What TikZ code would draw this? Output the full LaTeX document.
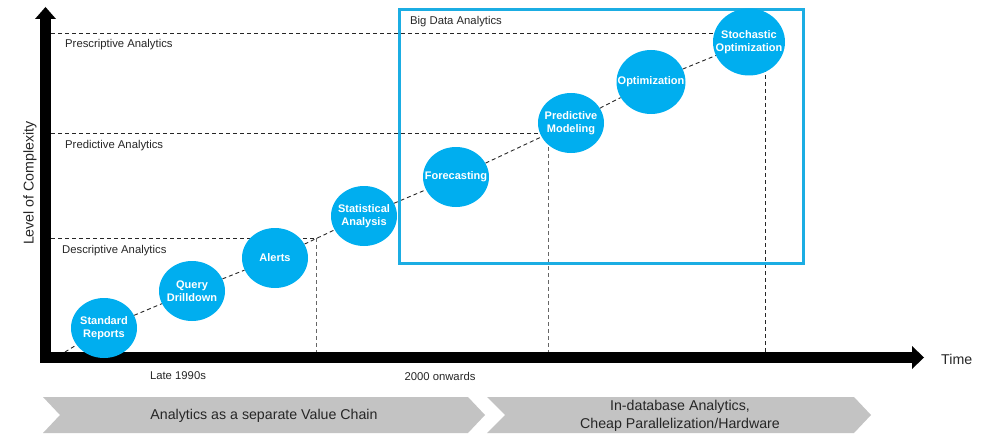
\documentclass[tikz,border=0pt]{standalone}
\usepackage{fontspec}
\setmainfont{Liberation Sans}
\usetikzlibrary{shapes.geometric}
\pgfdeclarelayer{bg}
\pgfsetlayers{bg,main}
\definecolor{bubc}{HTML}{00AEEF}
\definecolor{boxc}{HTML}{1BADE3}
\definecolor{chevc}{HTML}{C3C3C3}
\definecolor{txtc}{HTML}{262626}
\begin{document}
\begin{tikzpicture}[x=1pt,y=-1pt,
  bubble/.style={ellipse, fill=bubc, draw=none, inner sep=0pt, minimum width=66pt, minimum height=60pt},
  bubtext/.style={text=white, font=\bfseries\fontsize{11}{13.5}\selectfont, align=center, inner sep=0pt},
  small/.style={text=txtc, font=\fontsize{11.3}{13}\selectfont, inner sep=0pt},
  big/.style={text=txtc, font=\fontsize{14.2}{17}\selectfont, inner sep=0pt, align=center},
  hdash/.style={dash pattern=on 4pt off 3pt, line width=0.9pt, black!85},
  vdash/.style={dash pattern=on 4pt off 3pt, line width=0.9pt, black!60},
  ddash/.style={dash pattern=on 4pt off 3pt, line width=0.9pt, black!85},
  chev/.style={fill=chevc, draw=none}]
\useasboundingbox (0,0) rectangle (994,436);

% axes
\fill (40,19) rectangle (51,363);
\fill (35,19) -- (45.5,7) -- (56,19) -- cycle;
\fill (40,352) rectangle (912,363);
\fill (912,346) -- (924,357.5) -- (912,369) -- cycle;

% labels
\node[small, anchor=west] (presc) at (65,45) {Prescriptive Analytics};
\node[small, anchor=west] (pred) at (65,146) {Predictive Analytics};
\node[small, anchor=west] (desc) at (62,251) {Descriptive Analytics};
\node[small] (late) at (178,376) {Late 1990s};
\node[small] (onw) at (440,376) {2000 onwards};
\node[big, rotate=90] (loc) at (30,183) {Level of Complexity};
\node[big, anchor=west] (time) at (941,359) {Time};

% Big data box
\draw[boxc, line width=3pt] (399,10) rectangle (803,263);
\node[small, anchor=west] (bda) at (410,22) {Big Data Analytics};

% bubbles
\node[bubble, label={[bubtext]center:Standard\\Reports}] (sr) at (104,328) {};
\node[bubble, label={[bubtext]center:Query\\Drilldown}] (qd) at (192,291) {};
\node[bubble, label={[bubtext]center:Alerts}] (al) at (275,258) {};
\node[bubble, label={[bubtext]center:Statistical\\Analysis}] (sa) at (364,216) {};
\node[bubble, label={[bubtext]center:Forecasting}] (fc) at (456,177) {};
\node[bubble, label={[bubtext]center:Predictive\\Modeling}] (pm) at (571,123) {};
\node[bubble, minimum width=69pt, minimum height=64pt, label={[bubtext]center:Optimization}] (op) at (651,82) {};
\node[bubble, minimum width=72pt, minimum height=67pt, label={[bubtext]center:Stochastic\\Optimization}] (so) at (749,42) {};

% guide lines
\coordinate (o) at (65,352);
\coordinate (c1) at (316,238);
\coordinate (c2) at (548,133);
\coordinate (c3) at (765,33);
\coordinate (h1) at (51,238);
\coordinate (h2) at (51,133);
\coordinate (h3) at (51,33);
\coordinate (v1) at (316,352);
\coordinate (v2) at (548,352);
\coordinate (v3) at (765,352);
\begin{pgfonlayer}{bg}
\draw[ddash] (o) -- (sr) -- (qd) -- (al) -- (sa) -- (fc) -- (pm) -- (op) -- (so);
\draw[hdash] (h1) -- (c1);
\draw[vdash] (c1) -- (v1);
\draw[hdash] (h2) -- (c2);
\draw[vdash] (c2) -- (v2);
\draw[hdash] (h3) -- (c3);
\draw[hdash] (c3) -- (v3);
\end{pgfonlayer}

% chevrons
\fill[chev] (43,397) -- (468,397) -- (485,415) -- (468,433) -- (43,433) -- (60,415) -- cycle;
\fill[chev] (487,397) -- (854,397) -- (871,415) -- (854,433) -- (487,433) -- (505,415) -- cycle;
\node[big] (ch1) at (264,416) {Analytics as a separate Value Chain};
\node[big, font=\fontsize{14.2}{17.5}\selectfont] (ch2) at (680,416) {In-database Analytics,\\Cheap Parallelization/Hardware};
\end{tikzpicture}
\end{document}
